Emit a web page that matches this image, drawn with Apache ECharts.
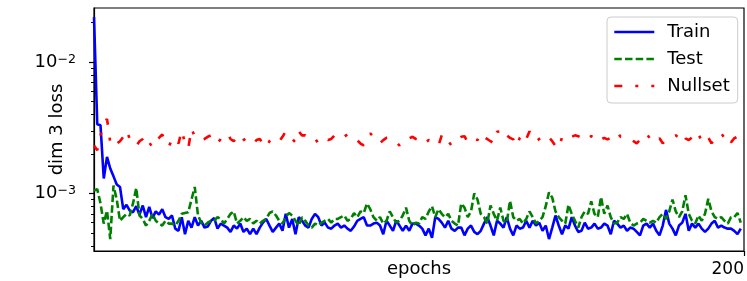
<!DOCTYPE html>
<html><head><meta charset="utf-8">
<script src="https://cdn.jsdelivr.net/npm/echarts@6/dist/echarts.min.js"></script>
<style>html,body{margin:0;padding:0;background:#fff}#c{width:747px;height:281px}</style>
</head><body><div id="c"></div>
<script>
// values are given in units of 1e-4
const UNIT = 1e-4;
const xMax = 200;
const xTickLabels = [200];
const yMajorTicks = [0.01, 0.001];
const yMinorTicks = [0.02, 0.009, 0.008, 0.007, 0.006, 0.005, 0.004, 0.003, 0.002,
                     0.0009, 0.0008, 0.0007, 0.0006, 0.0005, 0.0004];
const seriesNames = ['Train', 'Test', 'Nullset'];
const trainLoss = [
 220, 33.6, 33, 13, 19, 15.5, 13.5, 11.7, 11.2, 7.6,
 8.2, 7.4, 7.2, 8.0, 6.9, 8.1, 6.6, 7.9, 6.5, 7.3,
 6.9, 7.6, 6.6, 6.4, 6.8, 5.4, 5.2, 6.6, 4.9, 6.2,
 5.5, 6.6, 5.7, 6.2, 5.5, 5.6, 6.2, 6.5, 5.4, 5.9,
 5.7, 5.5, 5.1, 5.7, 5.4, 5.9, 5.1, 5.4, 4.9, 5.4,
 4.9, 5.5, 6.0, 6.4, 5.7, 5.1, 5.5, 5.9, 5.2, 7.0,
 5.5, 6.4, 4.9, 6.6, 6.2, 5.7, 5.5, 6.4, 7.0, 6.6,
 5.7, 6.0, 5.5, 5.4, 5.7, 5.9, 5.5, 5.7, 5.4, 5.2,
 5.6, 6.2, 6.4, 6.6, 5.7, 5.7, 5.9, 6.0, 5.7, 4.9,
 6.2, 5.7, 5.2, 6.2, 5.7, 5.2, 5.7, 5.2, 5.9, 5.9,
 5.7, 5.4, 4.8, 5.4, 4.6, 6.6, 6.4, 6.0, 5.5, 6.2,
 5.4, 5.2, 5.5, 5.5, 4.8, 5.4, 5.7, 5.1, 4.9, 5.2,
 5.9, 6.6, 5.7, 4.8, 6.2, 5.9, 5.5, 6.6, 5.4, 4.8,
 5.7, 5.4, 5.5, 6.2, 5.5, 6.2, 5.7, 6.0, 5.2, 5.7,
 4.5, 5.5, 6.8, 5.7, 4.9, 5.7, 5.4, 6.6, 5.7, 5.1,
 5.2, 6.0, 5.4, 5.5, 5.9, 5.4, 5.5, 5.9, 5.7, 4.9,
 6.2, 5.9, 5.5, 5.7, 5.2, 5.5, 5.4, 5.1, 4.8, 5.7,
 5.9, 5.5, 5.9, 5.2, 4.8, 5.7, 7.5, 5.9, 5.4, 4.8,
 5.7, 6.0, 7.0, 5.2, 5.9, 5.5, 5.9, 5.4, 5.1, 5.4,
 5.9, 6.2, 5.5, 5.7, 5.5, 5.4, 5.4, 5.2, 4.9, 5.4
];
const testLoss = [
 10.5, 10.8, 8.4, 5.9, 7.4, 4.5, 11.5, 9.0, 6.2, 6.6,
 7.0, 6.8, 8.4, 11.0, 6.8, 6.4, 5.7, 6.2, 7.0, 6.2,
 5.9, 5.7, 6.2, 5.9, 5.9, 5.7, 6.2, 7.0, 7.1, 7.2,
 9.0, 11.2, 6.8, 6.0, 5.7, 6.0, 6.2, 6.2, 6.6, 6.4,
 5.9, 6.4, 7.0, 7.3, 5.9, 6.2, 6.6, 6.2, 6.4, 5.9,
 6.2, 5.9, 6.2, 6.4, 7.1, 7.3, 6.8, 6.2, 5.9, 6.6,
 7.1, 6.8, 6.2, 5.7, 6.6, 6.2, 5.7, 5.5, 5.9, 5.7,
 6.0, 6.2, 6.4, 6.0, 6.4, 6.4, 6.6, 6.8, 6.2, 6.4,
 7.1, 6.6, 7.3, 7.1, 8.4, 7.6, 6.6, 6.2, 6.6, 5.9,
 6.2, 7.3, 6.6, 6.0, 6.2, 6.8, 7.8, 6.2, 5.7, 6.0,
 5.9, 6.6, 6.4, 7.3, 8.0, 6.6, 7.6, 7.0, 6.6, 7.0,
 6.2, 5.9, 5.7, 8.4, 7.8, 6.6, 7.3, 10.0, 9.0, 7.0,
 6.6, 5.9, 8.1, 7.0, 6.2, 7.8, 6.2, 6.0, 8.8, 6.6,
 6.2, 6.4, 5.9, 6.4, 7.3, 6.6, 5.9, 6.2, 6.6, 8.0,
 10.2, 9.3, 7.3, 6.6, 6.2, 5.9, 8.2, 7.0, 6.2, 5.5,
 6.6, 7.3, 7.0, 8.7, 7.0, 6.6, 9.4, 7.0, 8.1, 6.6,
 5.9, 6.0, 6.6, 6.4, 7.0, 6.0, 5.7, 5.9, 6.0, 6.4,
 6.2, 6.0, 6.2, 6.0, 6.6, 7.0, 6.4, 7.3, 9.0, 7.3,
 6.6, 7.3, 9.7, 7.0, 6.2, 5.9, 6.8, 6.2, 7.0, 9.1,
 7.3, 6.6, 6.4, 6.6, 6.2, 5.9, 6.6, 6.6, 7.1, 6.0
];
const nullsetLoss = [
 23.2, 21.3, 27.7, 33, 37, 24.5, 26, 24, 25, 27,
 30.3, 26, 24, 23, 25, 26, 27.7, 24.5, 22.4, 25,
 26.5, 28.2, 24.1, 22.8, 25.5, 26.7, 24, 30.3, 24, 22,
 31.3, 27, 26.7, 25.4, 26, 27, 27.7, 25.4, 24.1, 26,
 27, 28.7, 26, 25, 26.5, 24.1, 25.5, 26.5, 25, 24.1,
 25.5, 26, 24.1, 22.4, 25, 26.5, 25.5, 24.9, 27, 29.7,
 27.7, 26, 24.5, 29.7, 27.7, 27.7, 26.5, 25.5, 26.3, 24.1,
 25.5, 26.3, 25.5, 26, 27.7, 28, 26.3, 27, 28.2, 26.5,
 25.5, 25.4, 24, 23.2, 26, 28.7, 27, 26.3, 24.1, 25.5,
 26.5, 26.7, 25.5, 24.5, 23.2, 25, 26.5, 26.3, 27, 26,
 25.5, 26.3, 24.5, 25.5, 25, 24, 23.2, 27.7, 24.5, 25,
 23.2, 25, 26, 27, 27.3, 24.5, 25.5, 26.3, 25.5, 28.7,
 26.7, 26, 25, 24.1, 29.5, 29.7, 26.5, 27.7, 26.5, 25.8,
 22.9, 26.5, 28.7, 26, 29.7, 27, 24.9, 26, 27, 28.2,
 26.7, 25, 23, 22, 26.7, 25.4, 26.5, 27, 27.7, 27.3,
 26.5, 27.7, 26.3, 27.3, 26.5, 27.7, 25.8, 26.5, 25.8, 26.5,
 27.5, 29.2, 27, 26.7, 25.8, 26, 25, 24.1, 25.5, 27,
 28.7, 26.3, 24.5, 25.5, 26.3, 24.1, 25.5, 26.5, 27, 27.7,
 26.5, 28.7, 26.3, 25.5, 26.7, 26, 28.7, 24.5, 25.5, 26.7,
 24.1, 26, 27.5, 28.7, 26.5, 27.7, 24.5, 26.3, 27, 25.5
];

const FONT = 'DejaVu Sans';
const yMin = 0.000365, yMax = 0.0258;
function pairs(arr) { return arr.map((v, i) => [i, v * UNIT]); }
function expLabel(v) {
  const e = v > 0 ? Math.round(Math.log10(v)) : Math.round(v);
  return '{b|10}{s|\u2212' + Math.abs(e) + '}';
}
const chart = echarts.init(document.getElementById('c'), null, {renderer: 'canvas'});
chart.setOption({
  animation: false,
  backgroundColor: '#fff',
  grid: {left: 94, right: 3, top: 8, bottom: 30, outerBoundsMode: 'none', containLabel: false,
         show: true, borderColor: '#000', borderWidth: 1.2, backgroundColor: 'transparent'},
  xAxis: {
    type: 'value', min: 0, max: xMax,
    name: 'epochs', nameLocation: 'middle', nameGap: 9, nameMoveOverlap: false,
    nameTextStyle: {fontFamily: FONT, fontSize: 18, color: '#000', verticalAlign: 'top'},
    axisLine: {show: true, lineStyle: {color: '#000', width: 1.2}},
    axisTick: {show: true, customValues: xTickLabels, length: 5, lineStyle: {color: '#000', width: 1.2}},
    axisLabel: {show: true, customValues: xTickLabels, margin: 10, align: 'right', fontFamily: FONT, fontSize: 17, color: '#000'},
    splitLine: {show: false}
  },
  yAxis: [{
    type: 'log', logBase: 10, min: yMin, max: yMax, position: 'left',
    name: 'dim 3 loss', nameLocation: 'middle', nameGap: 28, nameRotate: 90, nameMoveOverlap: false,
    nameTextStyle: {fontFamily: FONT, fontSize: 18, color: '#000'},
    axisLine: {show: true, lineStyle: {color: '#000', width: 1.2}},
    axisTick: {show: true, customValues: yMajorTicks, length: 5, lineStyle: {color: '#000', width: 1.2}},
    axisLabel: {show: true, customValues: yMajorTicks, margin: 18, formatter: expLabel,
      rich: {b: {fontFamily: FONT, fontSize: 18, color: '#000'},
             s: {fontFamily: FONT, fontSize: 12.6, color: '#000', verticalAlign: 'top'}}},
    splitLine: {show: false}
  }, {
    type: 'log', logBase: 10, min: yMin, max: yMax, position: 'left',
    axisLine: {show: false},
    axisTick: {show: true, customValues: yMinorTicks, length: 3, lineStyle: {color: '#000', width: 1}},
    axisLabel: {show: false},
    splitLine: {show: false}
  }],
  legend: {
    orient: 'vertical', left: 607, top: 17,
    padding: [6, 8, 8, 6], itemGap: 9, itemWidth: 40, itemHeight: 14,
    itemStyle: {opacity: 0},
    lineStyle: {width: 2.6},
    backgroundColor: '#fff', borderColor: '#cccccc', borderWidth: 1, borderRadius: 4,
    textStyle: {fontFamily: FONT, fontSize: 18, color: '#000', lineHeight: 18, padding: [0, 0, 0, 8]},
    data: seriesNames
  },
  series: [
    {name: seriesNames[0], type: 'line', data: pairs(trainLoss), showSymbol: false, symbol: 'none',
     lineStyle: {color: '#0000ff', width: 2.6}, itemStyle: {color: '#0000ff'}, z: 2},
    {name: seriesNames[1], type: 'line', data: pairs(testLoss), showSymbol: false, symbol: 'none',
     lineStyle: {color: '#008000', width: 2.6, type: [7.5, 3.2]}, itemStyle: {color: '#008000'}, z: 3},
    {name: seriesNames[2], type: 'line', data: pairs(nullsetLoss), showSymbol: false, symbol: 'none',
     lineStyle: {color: '#ff0000', width: 2.6, type: [8, 13, 3, 13]}, itemStyle: {color: '#ff0000'}, z: 4}
  ]
});
</script></body></html>
